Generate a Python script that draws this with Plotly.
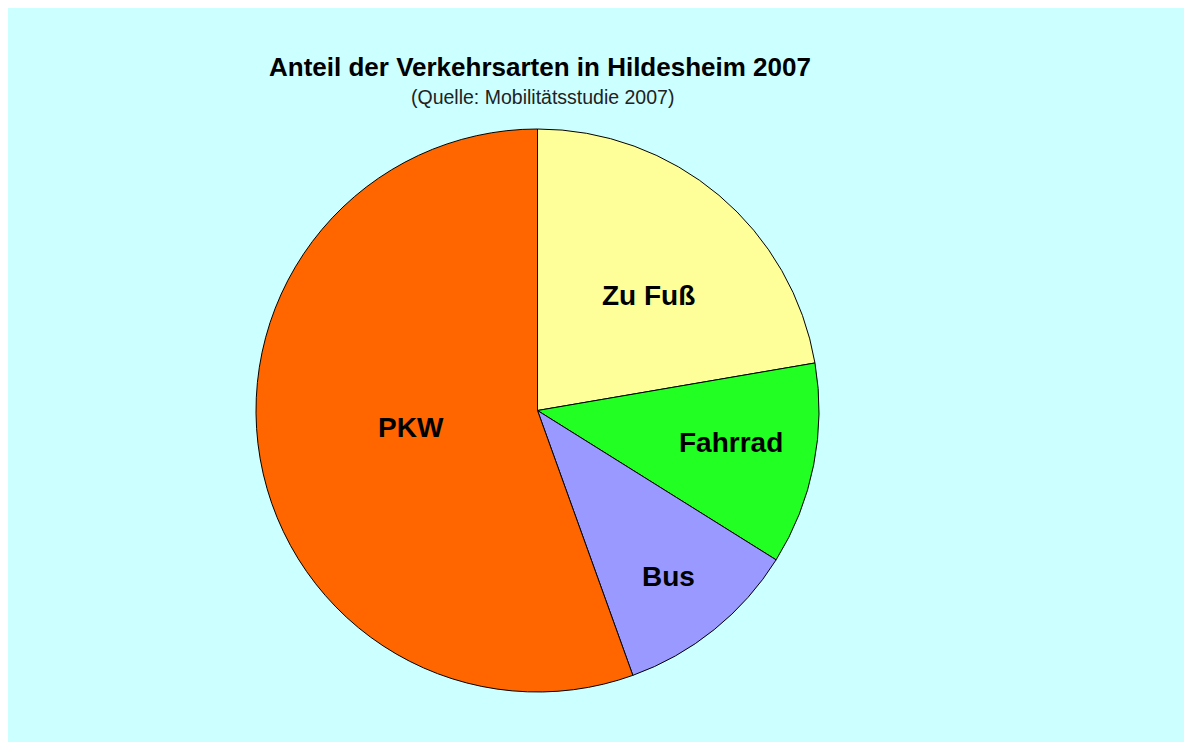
import plotly.graph_objects as go

labels = ["Zu Fuß", "Fahrrad", "Bus", "PKW"]
values = [22.3, 11.6, 10.6, 55.5]
colors = ["#FFFF99", "#22FF22", "#9999FF", "#FF6600"]

# label centres (pixels within the figure)
label_x = [640, 723, 660, 403]
label_y = [287, 435, 568, 419]

W, H = 1192, 742

fig = go.Figure()
fig.add_trace(go.Pie(
    labels=labels, values=values, sort=False, direction="clockwise", rotation=0,
    marker=dict(colors=colors, line=dict(color="black", width=1)),
    textinfo="none", hoverinfo="label+percent", showlegend=False,
    domain=dict(x=[248 / W, 811 / W], y=[1 - 684 / H, 1 - 121 / H]),
))

anns = []
for lab, lx, ly in zip(labels, label_x, label_y):
    anns.append(dict(x=lx / W, y=1 - ly / H, xref="paper", yref="paper", text=lab,
                     showarrow=False, xanchor="center", yanchor="middle",
                     font=dict(family="Liberation Sans, Arial", size=28, color="black", weight="bold")))
anns.append(dict(x=532 / W, y=1 - 59 / H, xref="paper", yref="paper",
                 text="Anteil der Verkehrsarten in Hildesheim 2007", showarrow=False,
                 xanchor="center", yanchor="middle",
                 font=dict(family="Liberation Sans, Arial", size=26, color="black", weight="bold")))
anns.append(dict(x=534 / W, y=1 - 89 / H, xref="paper", yref="paper",
                 text="(Quelle: Mobilitätsstudie 2007)", showarrow=False,
                 xanchor="center", yanchor="middle",
                 font=dict(family="Liberation Sans, Arial", size=19.5, color="#222222")))

fig.update_layout(
    width=W, height=H, margin=dict(l=0, r=0, t=0, b=0),
    paper_bgcolor="#CCFFFF", plot_bgcolor="#CCFFFF",
    annotations=anns,
)
fig.write_html("out.html")
